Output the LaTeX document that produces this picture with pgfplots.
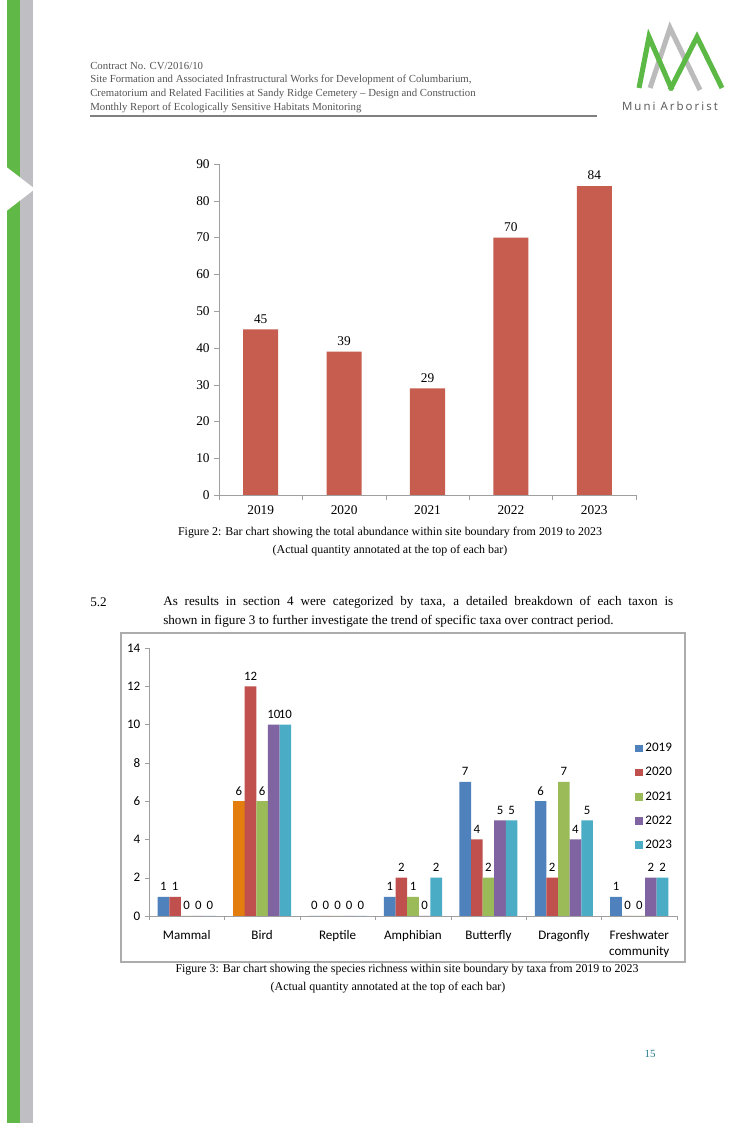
\documentclass[border=0pt]{standalone}
\usepackage{pgfplots}
\pgfplotsset{compat=1.18}
\usepackage{fontspec}
\setmainfont{Liberation Serif}
\newfontfamily\calfont{Carlito}
\newfontfamily\logofont[LetterSpace=18]{Open Sans}
\definecolor{stripegreen}{HTML}{60B846}
\definecolor{stripegray}{HTML}{BEBEC3}
\definecolor{logogreen}{HTML}{5CB946}
\definecolor{logogray}{HTML}{BBBBBB}
\definecolor{barred}{HTML}{C65D4F}
\definecolor{cB}{HTML}{4F81BD}
\definecolor{cR}{HTML}{C0504D}
\definecolor{cG}{HTML}{9BBB59}
\definecolor{cP}{HTML}{8064A2}
\definecolor{cC}{HTML}{4BACC6}
\definecolor{cO}{HTML}{E37D0E}
\definecolor{headgray}{HTML}{555555}
\definecolor{pagenum}{HTML}{2A7A8A}
\begin{document}
\begin{tikzpicture}[x=0.75pt,y=0.75pt]
\useasboundingbox (0,0) rectangle (730,1123);
\fill[white] (0,0) rectangle (730,1123);
% side stripes
\fill[stripegreen] (7,0) rectangle (20,1123);
\fill[stripegray] (20,0) rectangle (33,1123);
\fill[white] (0,961) -- (35,934) -- (0,907) -- cycle;
% header
\begin{scope}[every node/.style={anchor=west,inner sep=0pt,text=headgray,font=\fontsize{8.1}{9}\selectfont}]
\node at (90,1057) {Contract No. CV/2016/10};
\node at (90,1043) {Site Formation and Associated Infrastructural Works for Development of Columbarium,};
\node at (90,1029) {Crematorium and Related Facilities at Sandy Ridge Cemetery -- Design and Construction};
\node at (90,1015) {Monthly Report of Ecologically Sensitive Habitats Monitoring};
\end{scope}
\draw[gray,line width=0.8pt] (90,1007) -- (597,1007);
% logo
\draw[logogray,line width=3.8pt] (650,1035) -- (670,1095) -- (700,1033);
\draw[logogreen,line width=3.8pt] (639,1035) -- (649,1086) -- (672,1033);
\draw[logogreen,line width=3.8pt] (670,1033) -- (697,1086) -- (722,1035);
\node[text=headgray,font=\logofont\fontsize{8.6}{10}\selectfont,inner sep=0pt] at (670,1017) {Muni Arborist};
% chart 1
\begin{axis}[at={(164.25pt,471pt)}, anchor=south west, scale only axis,
  width=312.75pt, height=248.25pt,
  xmin=-0.5, xmax=4.5, ymin=0, ymax=90,
  axis x line*=bottom, axis y line*=left,
  axis line style={gray!75,-},
  ytick={0,10,...,90},
  xtick={0,1,2,3,4}, xticklabels={2019,2020,2021,2022,2023},
  major x tick style={draw=none},
  minor xtick={-0.5,0.5,1.5,2.5,3.5,4.5},
  tick align=outside, major tick length=3.5pt, minor tick length=3.5pt,
  tick style={gray!75},
  /pgf/number format/assume math mode=true,
  tick label style={font=\fontsize{10}{12}\selectfont},
  x tick label style={yshift=-1pt},
  ybar, bar width=0.42,
  nodes near coords,
  every node near coord/.append style={font=\fontsize{10}{12}\selectfont, yshift=1pt},
  clip=false]
\addplot[fill=barred, draw=none] coordinates {(0,45) (1,39) (2,29) (3,70) (4,84)};
\end{axis}
\node[font=\fontsize{8.95}{10}\selectfont] at (390,590) {Figure 2: Bar chart showing the total abundance within site boundary from 2019 to 2023};
\node[font=\fontsize{8.95}{10}\selectfont] at (390,572) {(Actual quantity annotated at the top of each bar)};
% paragraph
\node[anchor=west,inner sep=0pt,font=\fontsize{9.85}{12}\selectfont] at (90,521) {5.2};
\node[anchor=west,inner sep=0pt,font=\fontsize{9.85}{12}\selectfont] at (163,521) {\makebox[382.5pt][s]{As results in section 4 were categorized by taxa, a detailed breakdown of each taxon is}};
\node[anchor=west,inner sep=0pt,font=\fontsize{9.85}{12}\selectfont] at (163,502) {shown in figure 3 to further investigate the trend of specific taxa over contract period.};
% chart 2 frame
\draw[gray!65,line width=0.8pt] (121,161) rectangle (685,490);
\begin{axis}[at={(111.75pt,155.25pt)}, anchor=south west, scale only axis,
  width=396pt, height=201pt,
  xmin=-0.5, xmax=6.5, ymin=0, ymax=14,
  axis x line*=bottom, axis y line*=left,
  axis line style={gray!75,-},
  ytick={0,2,...,14},
  xtick={0,1,2,3,4,5,6},
  xticklabels={Mammal,Bird,Reptile,Amphibian,Butterfly,Dragonfly,{Freshwater\\community}},
  x tick label style={align=center, yshift=-4pt, font=\calfont\fontsize{9.8}{12}\selectfont},
  y tick label style={font=\calfont\fontsize{9.8}{12}\selectfont},
  major x tick style={draw=none},
  minor xtick={-0.5,0.5,1.5,2.5,3.5,4.5,5.5,6.5},
  tick align=outside, major tick length=3pt, minor tick length=3pt,
  tick style={gray!75},
  /pgf/number format/assume math mode=true,
  ybar, bar width=0.154,
  nodes near coords,
  every node near coord/.append style={font=\calfont\fontsize{9.6}{12}\selectfont, yshift=1pt},
  legend style={at={(0.92,0.655)}, anchor=north west, draw=none, fill=none,
    font=\calfont\fontsize{9.8}{12}\selectfont, row sep=6.2pt, inner sep=0pt},
  legend cell align=left,
  legend image code/.code={\fill[#1,draw=none] (0pt,-2.8pt) rectangle (5.8pt,2.8pt);},
  clip=false]
\addplot[fill=cB, draw=none, bar shift=-0.308] coordinates {(0,1) (1,6) (2,0) (3,1) (4,7) (5,6) (6,1)};
\addlegendentry{2019}
\addplot[fill=cO, draw=none, bar shift=-0.308, forget plot, nodes near coords={}] coordinates {(1,6)};
\addplot[fill=cR, draw=none, bar shift=-0.154] coordinates {(0,1) (1,12) (2,0) (3,2) (4,4) (5,2) (6,0)};
\addlegendentry{2020}
\addplot[fill=cG, draw=none, bar shift=0] coordinates {(0,0) (1,6) (2,0) (3,1) (4,2) (5,7) (6,0)};
\addlegendentry{2021}
\addplot[fill=cP, draw=none, bar shift=0.154] coordinates {(0,0) (1,10) (2,0) (3,0) (4,5) (5,4) (6,2)};
\addlegendentry{2022}
\addplot[fill=cC, draw=none, bar shift=0.308] coordinates {(0,0) (1,10) (2,0) (3,2) (4,5) (5,5) (6,2)};
\addlegendentry{2023}
\end{axis}
\node[font=\fontsize{8.95}{10}\selectfont] at (407,153) {Figure 3: Bar chart showing the species richness within site boundary by taxa from 2019 to 2023};
\node[font=\fontsize{8.95}{10}\selectfont] at (388,135) {(Actual quantity annotated at the top of each bar)};
\node[text=pagenum,font=\fontsize{8.2}{10}\selectfont] at (650,69) {15};
\end{tikzpicture}
\end{document}
